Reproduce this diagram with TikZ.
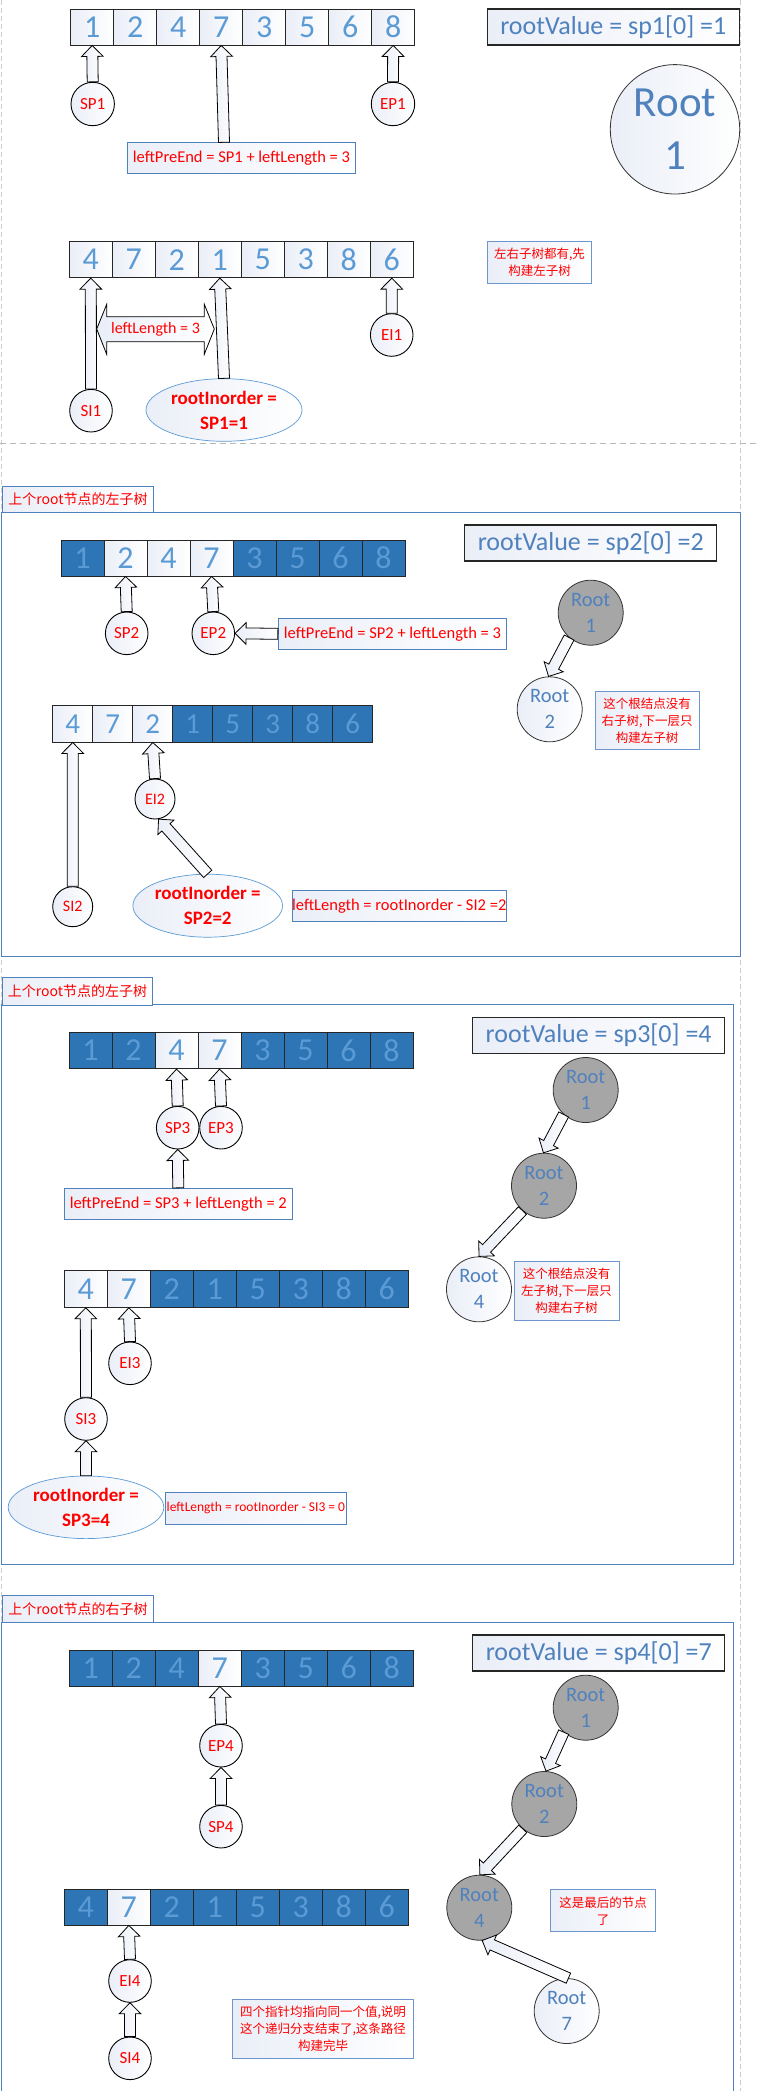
\documentclass[tikz,border=0pt]{standalone}
\usepackage{fontspec}
\setmainfont{Carlito}
\newfontfamily\cjk{Noto Sans CJK SC}
\usetikzlibrary{calc,shapes.geometric}
\definecolor{digblue}{RGB}{91,155,213}
\definecolor{rootblue}{RGB}{79,129,189}
\definecolor{darkcell}{RGB}{46,117,182}
\definecolor{gradL}{RGB}{234,238,247}
\definecolor{frameblue}{RGB}{79,129,189}
\definecolor{noteblue}{RGB}{110,150,205}
\definecolor{rootgray}{RGB}{166,166,166}
\definecolor{dashgray}{RGB}{205,205,205}
\newcommand\setfs[2]{\fontsize{#1}{#2}\selectfont}
\tikzset{
  grad/.style={left color=gradL, right color=white},
  cellbase/.style={draw=black!85, line width=0.9pt, inner sep=0pt, text=digblue},
  cellL/.style={cellbase, grad},
  cellD/.style={cellbase, fill=darkcell},
  ptr/.style={circle, draw=black, line width=0.9pt, grad, inner sep=0pt, text=red, font=\setfs{17}{19}},
  rootg/.style={circle, draw=black!80, line width=0.8pt, fill=rootgray, inner sep=0pt, minimum size=65pt, text=rootblue, align=center, font=\setfs{20.5}{26}},
  rootw/.style={circle, draw=black!80, line width=0.8pt, grad, inner sep=0pt, minimum size=65pt, text=rootblue, align=center, font=\setfs{20.5}{26}},
  rvbox/.style={draw=black!85, line width=1.2pt, grad, inner sep=0pt, minimum width=252pt, minimum height=36pt, text=rootblue, font=\setfs{26}{30}},
  redbox/.style={draw=frameblue, line width=0.9pt, grad, inner sep=0pt, text=red, font=\setfs{16.5}{18}},
  notebox/.style={draw=noteblue, line width=1pt, grad, inner sep=0pt, text=red, align=center, font=\cjk\setfs{12.5}{17}},
  tabbox/.style={draw=frameblue, line width=0.9pt, grad, inner sep=0pt, minimum width=151.6pt, minimum height=26.5pt, anchor=north west, text=red, font=\cjk\setfs{14}{16}},
  secframe/.style={draw=frameblue, line width=0.9pt},
  rio/.style={ellipse, draw=digblue, line width=0.7pt, grad, inner sep=0pt, text=red, align=center, font=\bfseries\setfs{19}{25}},
  blockarr/.style={draw=black, line width=0.8pt, grad, line join=miter},
}
\newcommand\cellrow[7]{%
  \foreach \v/\t [count=\i] in {#7} {%
    \if\t D%
      \node[cellD, minimum width=#4pt, minimum height=#5pt, font=\setfs{#6}{#6}] (#1-\i) at ({#2+(\i-0.5)*#4},{#3+#5/2}) {\v};%
    \else
      \node[cellL, minimum width=#4pt, minimum height=#5pt, font=\setfs{#6}{#6}] (#1-\i) at ({#2+(\i-0.5)*#4},{#3+#5/2}) {\v};%
    \fi
  }}
\newcommand\barrow[2]{%
  \path (#1) coordinate (ba-s) (#2) coordinate (ba-t);
  \path ($(ba-t)!11pt!(ba-s)$) coordinate (ba-h);
  \draw[blockarr] ($(ba-s)!5.5pt!90:(ba-t)$) -- ($(ba-h)!5.5pt!90:(ba-t)$) -- ($(ba-h)!10.8pt!90:(ba-t)$) -- (ba-t) -- ($(ba-h)!10.8pt!-90:(ba-t)$) -- ($(ba-h)!5.5pt!-90:(ba-t)$) -- ($(ba-s)!5.5pt!-90:(ba-t)$) -- cycle;
}
\begin{document}
\begin{tikzpicture}[x=1pt,y=-1pt]
\useasboundingbox (0,0) rectangle (756,2091);
\fill[white] (0,0) rectangle (756,2091);
% page guides
\draw[dashgray, dash pattern=on 5pt off 3pt, line width=0.8pt] (1,0) -- (1,2091);
\draw[dashgray, dash pattern=on 5pt off 3pt, line width=0.8pt] (740,0) -- (740,2091);
\draw[gray!55, dash pattern=on 6pt off 4pt, line width=0.9pt] (0,443.3) -- (756,443.3);

% ================= Section 1 =================
\cellrow{aA}{70.7}{9}{43}{36}{32}{1/L,2/L,4/L,7/L,3/L,5/L,6/L,8/L}
\node[ptr, minimum size=43.4pt] (sp1) at (92.7,104) {SP1};
\node[ptr, minimum size=43.4pt] (ep1) at (393,104) {EP1};
\node[redbox, minimum width=227.6pt, minimum height=31pt] (lpe1) at (241.5,157.8) {leftPreEnd = SP1 + leftLength = 3};
\coordinate (lpe1a) at (224,142.3);
\barrow{sp1.north}{aA-1.south}
\barrow{ep1.north}{aA-8.south}
\barrow{lpe1a}{aA-4.south}
\node[rvbox] (rv1) at (613.3,27) {rootValue = sp1[0] =1};
\node[circle, draw=black!80, line width=0.8pt, grad, inner sep=0pt, minimum size=129.4pt, text=rootblue, align=center, font=\setfs{43}{53}] (bigroot) at (675,129.3) {Root\\1};
\node[notebox, minimum width=104.4pt, minimum height=41.6pt] (note1) at (539.5,262.5) {左右子树都有,先\\构建左子树};

\cellrow{aB}{69.3}{241.7}{43}{36}{32}{4/L,7/L,2/L,1/L,5/L,3/L,8/L,6/L}
\node[ptr, minimum size=42.6pt] (si1) at (91,410.7) {SI1};
\node[ptr, minimum size=42.6pt] (ei1) at (391.7,335) {EI1};
\node[rio, minimum width=156pt, minimum height=62.6pt] (ri1) at (224,410) {rootInorder =\\SP1=1};
\barrow{si1.north}{aB-1.south}
\barrow{ri1.north}{aB-4.south}
\barrow{ei1.north}{aB-8.south}
\draw[blockarr] (96.7,329) -- (106.7,304.3) -- (106.7,316.7) -- (204.3,316.7) -- (204.3,304.3) -- (214.3,329) -- (204.3,354.3) -- (204.3,341.7) -- (106.7,341.7) -- (106.7,354.3) -- cycle;
\node[text=red, font=\setfs{16}{17}, inner sep=0pt] (ll1) at (155.5,329) {leftLength = 3};

% ================= Section 2 =================
\draw[secframe] (1.7,512) rectangle (740,956);
\node[tabbox] (tab2) at (1.7,485.7) {上个root节点的左子树};
\cellrow{aC}{61}{540}{43}{36}{32}{1/D,2/L,4/L,7/L,3/D,5/D,6/D,8/D}
\node[ptr, minimum size=42.6pt] (sp2) at (126.7,633.3) {SP2};
\node[ptr, minimum size=42.6pt] (ep2) at (213.3,633.3) {EP2};
\node[redbox, minimum width=228.4pt, minimum height=31pt] (lpe2) at (392.5,633.8) {leftPreEnd = SP2 + leftLength = 3};
\barrow{sp2.north}{aC-2.south}
\barrow{ep2.north}{aC-4.south}
\barrow{lpe2.west}{ep2.east}
\node[rvbox] (rv2) at (590.8,543) {rootValue = sp2[0] =2};
\node[rootg] (r2a) at (590.7,612.7) {Root\\1};
\node[rootw] (r2b) at (549.7,709.3) {Root\\2};
\barrow{r2a.229}{r2b.92}
\node[notebox, minimum width=104.3pt, minimum height=58.3pt] (note2) at (647.2,720.8) {这个根结点没有\\右子树,下一层只\\构建左子树};

\cellrow{aD}{52.7}{705.7}{40}{36.3}{29}{4/L,7/L,2/L,1/D,5/D,3/D,8/D,6/D}
\node[ptr, minimum size=40pt, font=\setfs{16}{18}] (si2) at (72.7,906.7) {SI2};
\node[ptr, minimum size=40pt, font=\setfs{16}{18}] (ei2) at (155,799) {EI2};
\node[rio, minimum width=145pt, minimum height=63pt] (ri2) at (207.7,905.7) {rootInorder =\\SP2=2};
\node[redbox, minimum width=213.3pt, minimum height=31pt] (ll2) at (399.3,906.2) {leftLength = rootInorder - SI2 =2};
\barrow{si2.north}{aD-1.south}
\barrow{ei2.north}{aD-3.south}
\barrow{ri2.north}{ei2.-80}

% ================= Section 3 =================
\draw[secframe] (1.7,1004.7) rectangle (733.3,1564);
\node[tabbox, minimum width=150.6pt, minimum height=27.4pt] (tab3) at (1.7,977.3) {上个root节点的左子树};
\cellrow{aE}{69}{1032}{43}{36.7}{32}{1/D,2/D,4/L,7/L,3/D,5/D,6/D,8/D}
\node[ptr, minimum size=42.6pt] (sp3) at (177.7,1127.7) {SP3};
\node[ptr, minimum size=42.6pt] (ep3) at (221,1127.7) {EP3};
\node[redbox, minimum width=228pt, minimum height=31pt] (lpe3) at (178.3,1203.8) {leftPreEnd = SP3 + leftLength = 2};
\barrow{sp3.north}{aE-3.south}
\barrow{ep3.north}{aE-4.south}
\barrow{lpe3.north}{sp3.south}
\node[rvbox] (rv3) at (598.7,1035.3) {rootValue = sp3[0] =4};
\node[rootg] (r3a) at (585.7,1090) {Root\\1};
\node[rootg] (r3b) at (544,1185.7) {Root\\2};
\node[rootw] (r3c) at (479,1289.3) {Root\\4};
\barrow{r3a.228}{r3b.91}
\barrow{r3b.229}{r3c.90}
\node[notebox, minimum width=105pt, minimum height=59pt] (note3) at (566.5,1290.5) {这个根结点没有\\左子树,下一层只\\构建右子树};

\cellrow{aF}{64.3}{1270.7}{43}{36.6}{32}{4/L,7/L,2/D,1/D,5/D,3/D,8/D,6/D}
\node[ptr, minimum size=42.6pt] (ei3) at (130,1363.3) {EI3};
\node[ptr, minimum size=42.6pt] (si3) at (86,1419) {SI3};
\node[rio, minimum width=155.6pt, minimum height=62.6pt] (ri3) at (86,1507.3) {rootInorder =\\SP3=4};
\node[redbox, minimum width=180.3pt, minimum height=31.7pt, font=\setfs{13.5}{15}] (ll3) at (255.9,1508.2) {leftLength = rootInorder - SI3 = 0};
\barrow{ei3.north}{aF-2.south}
\barrow{si3.north}{aF-1.south}
\barrow{ri3.north}{si3.south}

% ================= Section 4 =================
\draw[secframe] (1.7,2091) -- (1.7,1622.3) -- (733.3,1622.3) -- (733.3,2091);
\node[tabbox, minimum height=27.3pt] (tab4) at (1.7,1595) {上个root节点的右子树};
\cellrow{aG}{69.3}{1650}{43}{36}{32}{1/D,2/D,4/D,7/L,3/D,5/D,6/D,8/D}
\node[ptr, minimum size=42.6pt] (ep4) at (221,1745.7) {EP4};
\node[ptr, minimum size=42.6pt] (sp4) at (221,1826.7) {SP4};
\barrow{ep4.north}{aG-4.south}
\barrow{sp4.north}{ep4.south}
\node[rvbox] (rv4) at (598.8,1653) {rootValue = sp4[0] =7};
\node[rootg] (r4a) at (585.7,1707.7) {Root\\1};
\node[rootg] (r4b) at (544.3,1804) {Root\\2};
\node[rootg] (r4c) at (479.3,1907.7) {Root\\4};
\node[rootw] (r4d) at (566.7,2011) {Root\\7};
\barrow{r4a.228}{r4b.87}
\barrow{r4b.229}{r4c.89}
\barrow{r4d.87}{r4c.-85}
\node[notebox, minimum width=104.6pt, minimum height=41.7pt] (note4a) at (603,1910.8) {这是最后的节点\\了};

\cellrow{aH}{64.3}{1889}{43}{36}{32}{4/D,7/L,2/D,1/D,5/D,3/D,8/D,6/D}
\node[ptr, minimum size=42.6pt] (ei4) at (130,1981) {EI4};
\node[ptr, minimum size=42.6pt] (si4) at (130,2058.3) {SI4};
\barrow{ei4.north}{aH-2.south}
\barrow{si4.north}{ei4.south}
\node[notebox, minimum width=180.6pt, minimum height=59.3pt] (note4b) at (323,2028.7) {四个指针均指向同一个值,说明\\这个递归分支结束了,这条路径\\构建完毕};
\end{tikzpicture}
\end{document}
